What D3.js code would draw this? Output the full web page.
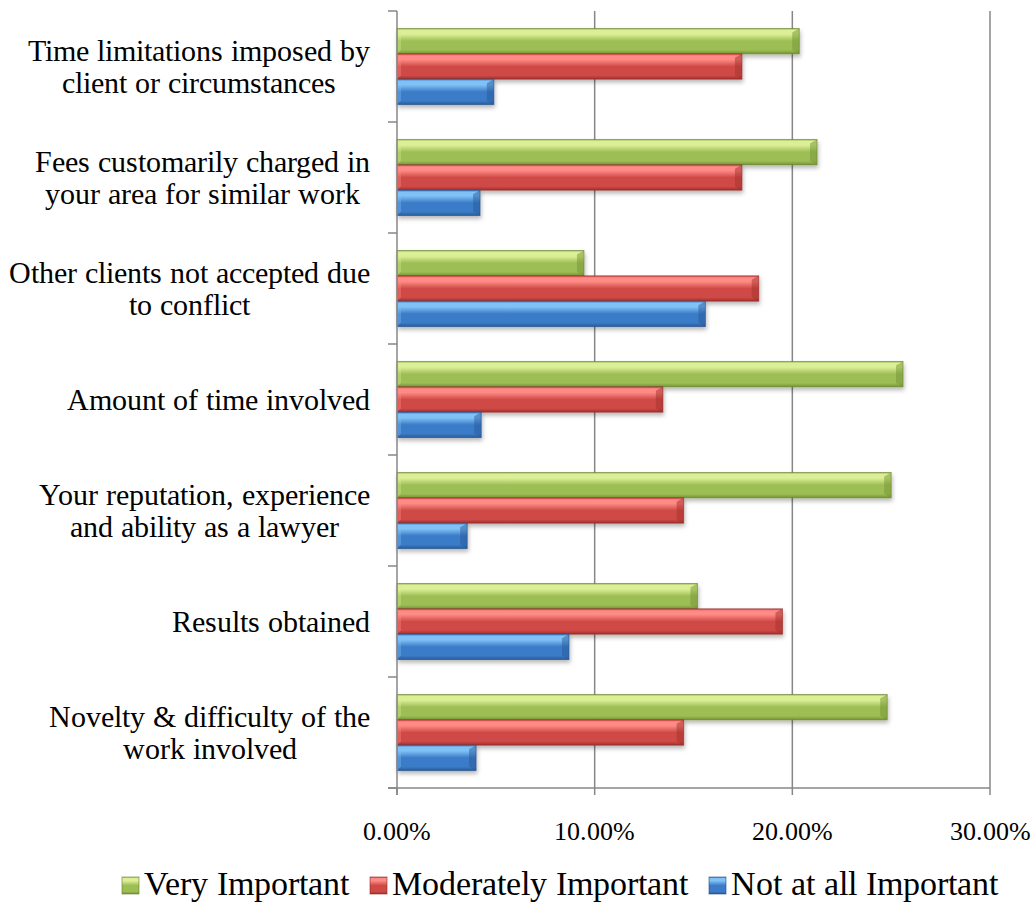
<!DOCTYPE html>
<html><head><meta charset="utf-8"><script src="https://cdn.jsdelivr.net/npm/d3@7"></script>
<style>
  @font-face { font-family: "ChartSerif"; src: local("Liberation Serif"), local("LiberationSerif"), local("Liberation Serif Regular"); }
</style>
</head>
<body style="margin:0">
<svg id="fig" width="1032" height="906"></svg>
<script>
// Factors considered when setting a fee, share of respondents by importance
const categories = [
  "Time limitations imposed by\nclient or circumstances",
  "Fees customarily charged in\nyour area for similar work",
  "Other clients not accepted due\nto conflict",
  "Amount of time involved",
  "Your reputation, experience\nand ability as a lawyer",
  "Results obtained",
  "Novelty & difficulty of the\nwork involved"
];
const seriesNames = ["Very Important", "Moderately Important", "Not at all Important"];
const veryImportant       = [0.2035, 0.2125, 0.0946, 0.2560, 0.2500, 0.1520, 0.2480];
const moderatelyImportant = [0.1745, 0.1745, 0.1830, 0.1345, 0.1450, 0.1950, 0.1450];
const notImportant        = [0.0490, 0.0420, 0.1560, 0.0426, 0.0355, 0.0870, 0.0400];
const tickValues = [0, 0.10, 0.20, 0.30];

const seriesValues = [veryImportant, moderatelyImportant, notImportant];
const palettes = [
  { light: "#dcef96", mid: "#9cbe55", dark: "#749433", edge: "#667f2e" },
  { light: "#ff8b87", mid: "#cf4a46", dark: "#a32f2c", edge: "#8c2826" },
  { light: "#80c2f6", mid: "#3b7bc8", dark: "#295b9b", edge: "#224d86" }
];
const fontFamily = '"ChartSerif"';
const setFont = (sel, size) => sel
  .style("font-family", fontFamily)
  .style("font-size", size + "px")
  .style("fill", "#000");

const svg = d3.select("#fig");
const plot = { left: 397, right: 990, top: 11, bottom: 788 };
const axisColor = "#878787";

const x = d3.scaleLinear().domain([0, 0.30]).range([plot.left, plot.right]);
const y0 = d3.scaleBand().domain(categories).range([plot.top, plot.bottom]);
const y1 = d3.scaleBand().domain(seriesNames).range([0, y0.bandwidth()]).paddingOuter(0.69);

// gradients and shadow
const defs = svg.append("defs");
palettes.forEach((p, i) => {
  const g = defs.append("linearGradient").attr("id", "grad" + i)
    .attr("x1", 0).attr("y1", 0).attr("x2", 0).attr("y2", 1);
  g.append("stop").attr("offset", "0%").attr("stop-color", p.mid);
  g.append("stop").attr("offset", "8%").attr("stop-color", p.light);
  g.append("stop").attr("offset", "22%").attr("stop-color", p.light);
  g.append("stop").attr("offset", "50%").attr("stop-color", p.mid);
  g.append("stop").attr("offset", "85%").attr("stop-color", p.mid);
  g.append("stop").attr("offset", "100%").attr("stop-color", p.dark);
});
const sh = defs.append("filter").attr("id", "shadow")
  .attr("x", "-5%").attr("y", "-30%").attr("width", "115%").attr("height", "190%");
sh.append("feDropShadow").attr("dx", 1).attr("dy", 3).attr("stdDeviation", 2.2)
  .attr("flood-color", "#000").attr("flood-opacity", 0.28);

// gridlines
svg.append("g")
  .selectAll("line")
  .data(tickValues.filter(d => d > 0))
  .join("line")
  .attr("x1", d => x(d)).attr("x2", d => x(d))
  .attr("y1", plot.top).attr("y2", plot.bottom)
  .attr("stroke", axisColor).attr("stroke-width", 1.5);

// bars
const groups = svg.append("g")
  .selectAll("g")
  .data(categories)
  .join("g")
  .attr("transform", d => `translate(0,${y0(d)})`);

groups.each(function (cat, ci) {
  const g = d3.select(this);
  seriesNames.forEach((s, si) => {
    const v = seriesValues[si][ci];
    const bx = x(0), bw = x(v) - x(0);
    const by = y1(s), bh = y1.bandwidth();
    const p = palettes[si];
    const bar = g.append("g").attr("filter", "url(#shadow)");
    bar.append("rect")
      .attr("x", bx).attr("y", by).attr("width", bw).attr("height", bh)
      .attr("fill", `url(#grad${si})`)
      .attr("stroke", p.edge).attr("stroke-width", 1).attr("stroke-opacity", 0.6);
    // bevelled right end
    const b = 7;
    bar.append("path")
      .attr("d", `M${bx + bw - b},${by + 4} L${bx + bw},${by} L${bx + bw},${by + bh} L${bx + bw - b},${by + bh - 4} Z`)
      .attr("fill", p.dark).attr("opacity", 0.5);
    bar.append("path")
      .attr("d", `M${bx},${by} L${bx + 4},${by + 4} L${bx + 4},${by + bh - 4} L${bx},${by + bh} Z`)
      .attr("fill", p.light).attr("opacity", 0.35);
  });
});

// x axis
const gx = svg.append("g").attr("transform", `translate(0,${plot.bottom})`);
gx.append("line").attr("x1", plot.left - 9).attr("x2", plot.right)
  .attr("stroke", axisColor).attr("stroke-width", 1.5);
gx.selectAll("line.tick").data(tickValues).join("line").attr("class", "tick")
  .attr("x1", d => x(d)).attr("x2", d => x(d)).attr("y1", 0).attr("y2", 7)
  .attr("stroke", axisColor).attr("stroke-width", 1.5);
setFont(gx.selectAll("text").data(tickValues).join("text")
  .attr("x", d => x(d)).attr("y", 52)
  .attr("text-anchor", "middle"), 26)
  .text(d3.format(".2%"));

// y axis line with category boundary ticks
const yAxis = svg.append("g");
yAxis.append("line")
  .attr("x1", plot.left).attr("x2", plot.left)
  .attr("y1", plot.top).attr("y2", plot.bottom + 7)
  .attr("stroke", axisColor).attr("stroke-width", 1.5);
const boundaries = categories.map(c => y0(c)).concat([plot.bottom]);
yAxis.selectAll("line.t").data(boundaries).join("line").attr("class", "t")
  .attr("x1", plot.left - 9).attr("x2", plot.left)
  .attr("y1", d => d).attr("y2", d => d)
  .attr("stroke", axisColor).attr("stroke-width", 1.5);

// category labels and legend are laid out once the font is ready
function drawText() {
  // category labels: block right-aligned, lines centred within it
  const labelRight = 370, lineH = 32, labelSize = 30;
  categories.forEach(cat => {
    const lines = cat.split("\n");
    const cy = y0(cat) + y0.bandwidth() / 2;
    const t = setFont(svg.append("text").attr("text-anchor", "middle"), labelSize);
    const spans = lines.map((ln, i) =>
      t.append("tspan")
        .attr("y", cy + (i - (lines.length - 1) / 2) * lineH + labelSize * 0.34)
        .text(ln));
    const maxW = d3.max(spans, s => s.node().getComputedTextLength());
    spans.forEach(s => s.attr("x", labelRight - maxW / 2));
  });

  // legend
  const legendSize = 34, legendBase = 895, box = 17, boxGap = 5, itemGap = 21;
  const legend = svg.append("g");
  let lx = 0;
  seriesNames.forEach((name, i) => {
    const it = legend.append("g").attr("transform", `translate(${lx},0)`);
    it.append("rect")
      .attr("x", 0).attr("y", legendBase - box - 1).attr("width", box).attr("height", box)
      .attr("fill", `url(#grad${i})`).attr("stroke", palettes[i].edge).attr("stroke-opacity", 0.6);
    const tx = setFont(it.append("text").attr("x", box + boxGap).attr("y", legendBase), legendSize)
      .text(name);
    lx += box + boxGap + tx.node().getComputedTextLength() + itemGap;
  });
  const totalW = lx - itemGap;
  legend.attr("transform", `translate(${998 - totalW},0)`);
}

if (document.fonts && document.fonts.load) {
  document.fonts.load('30px "ChartSerif"').then(drawText, drawText);
} else {
  drawText();
}
</script>
</body></html>
